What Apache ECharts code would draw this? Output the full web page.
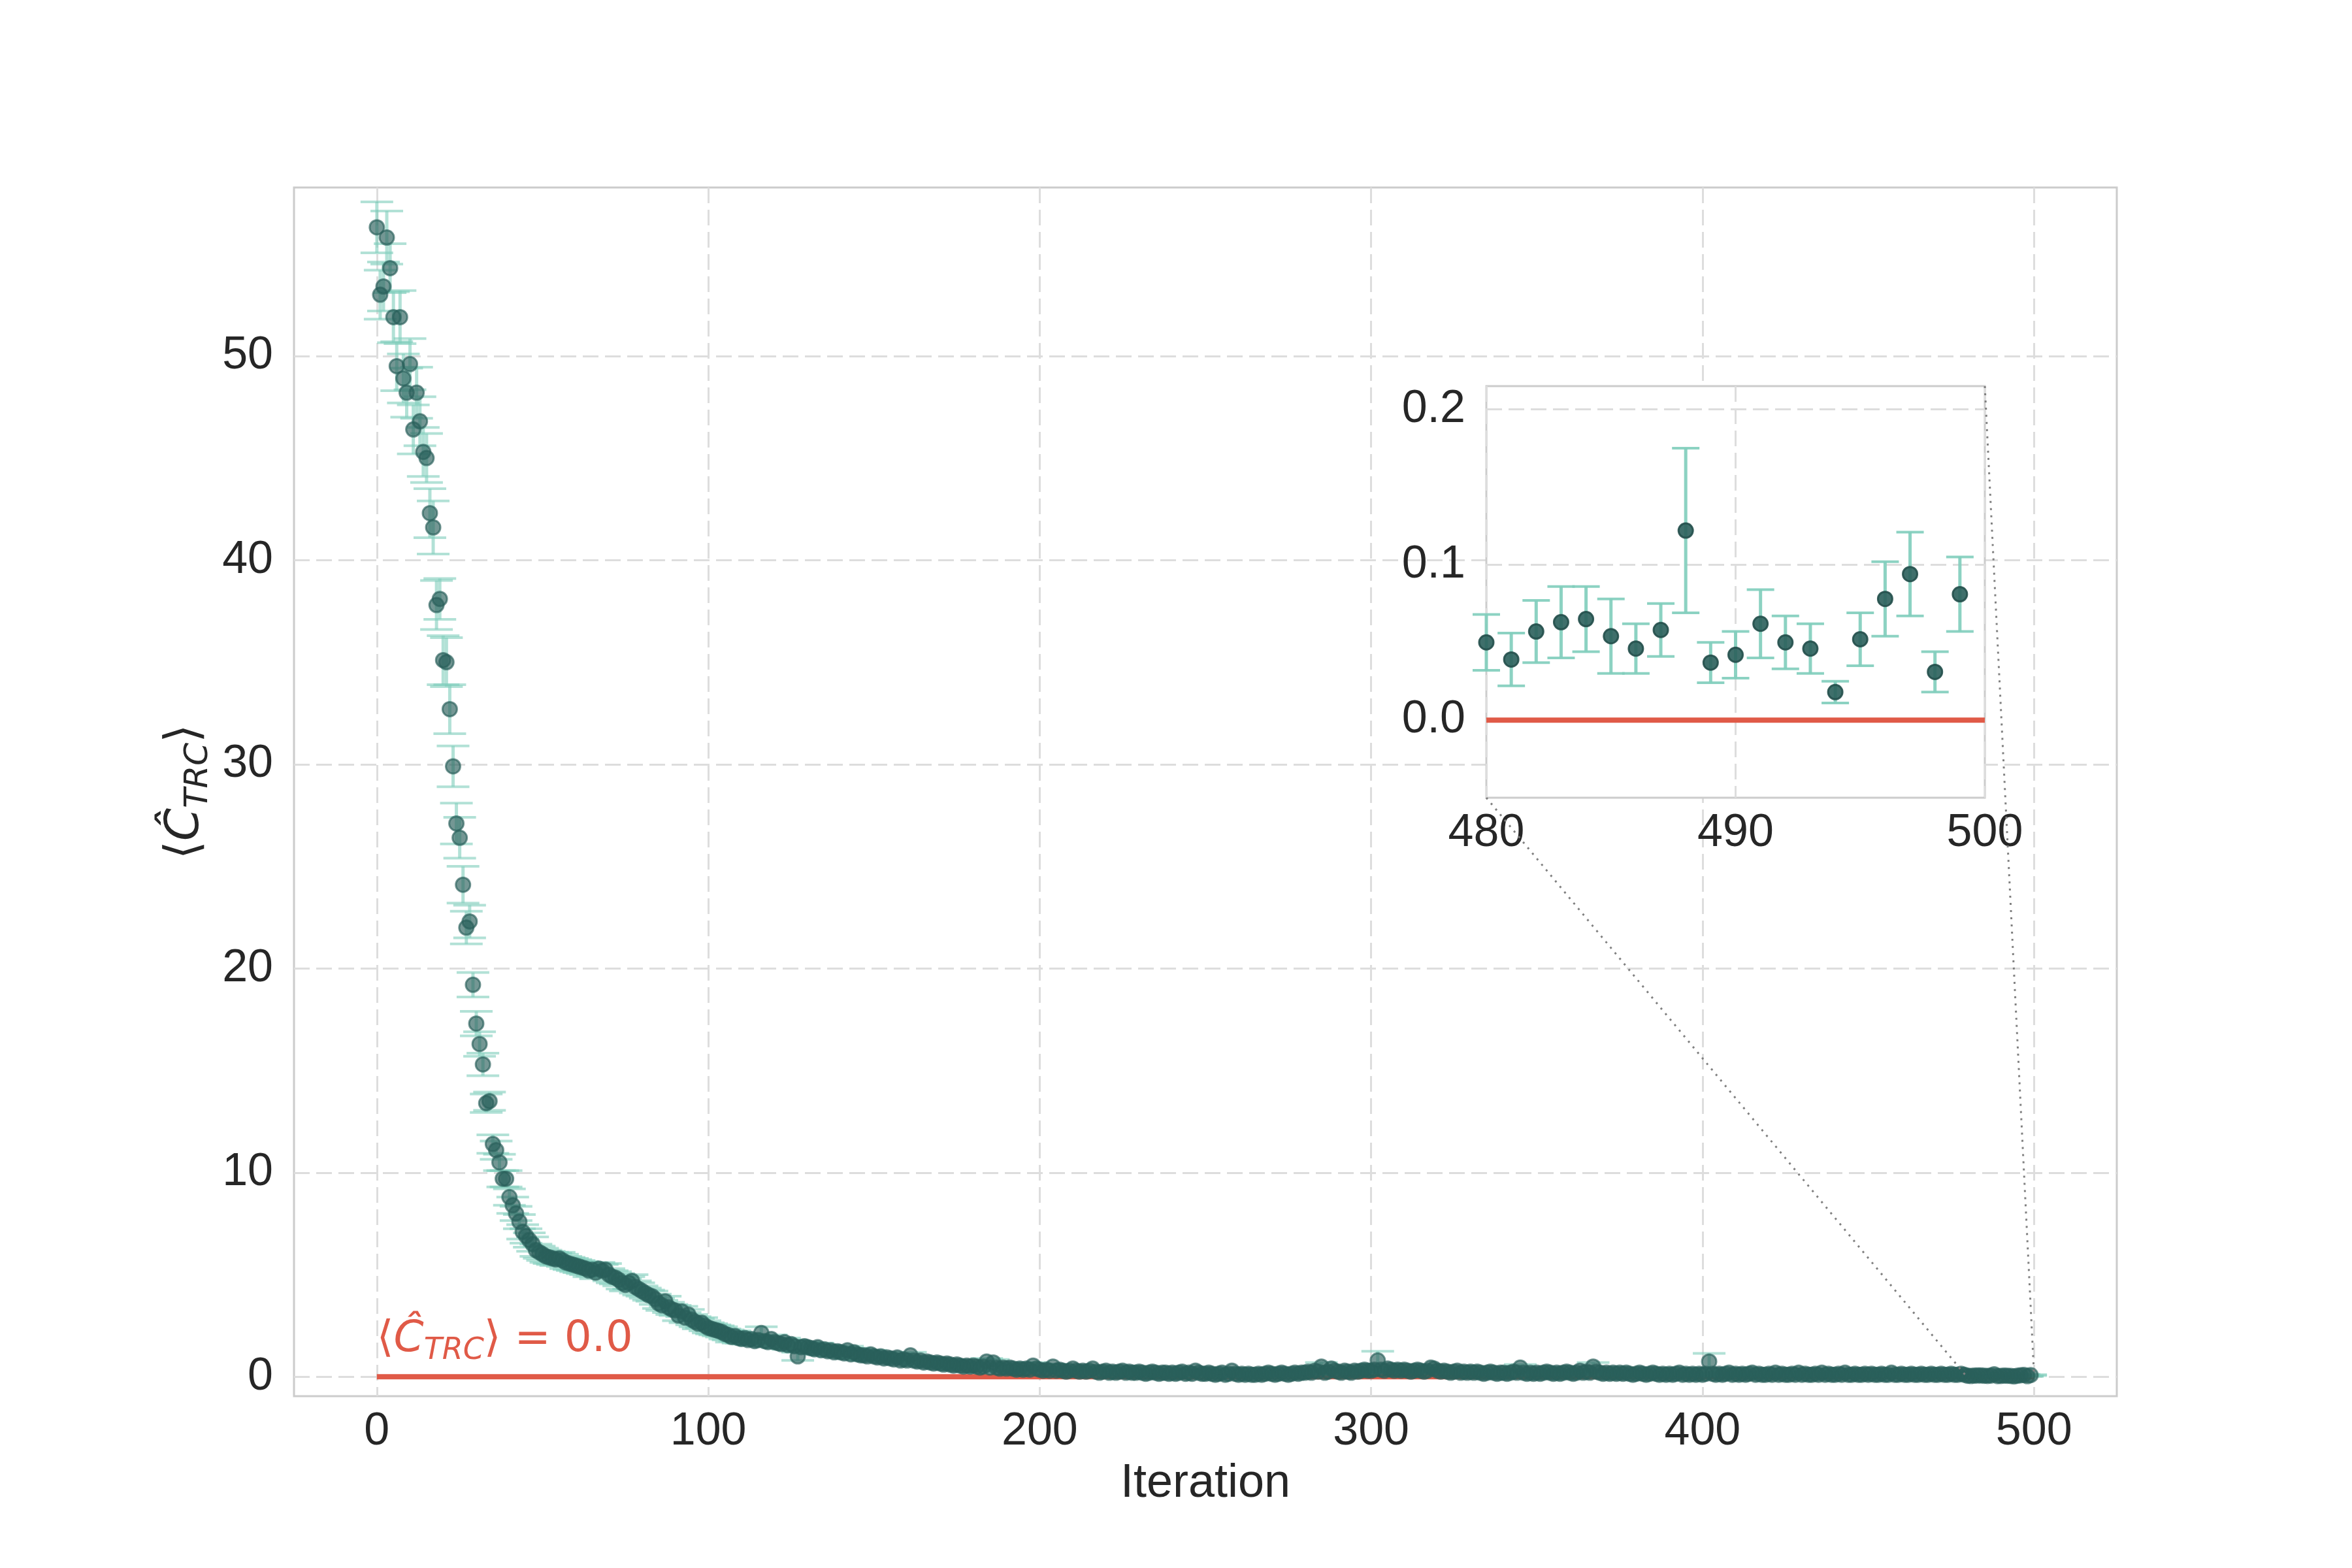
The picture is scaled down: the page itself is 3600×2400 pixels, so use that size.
<!DOCTYPE html>
<html>
<head>
<meta charset="utf-8">
<script src="https://cdn.jsdelivr.net/npm/echarts@6/dist/echarts.min.js"></script>
<style>
  html, body { margin: 0; background: #fff; }
  #chart { width: 3600px; height: 2400px; }
</style>
</head>
<body>
<div id="chart"></div>
<script>
// iterations 0..49, read one by one
const earlyValues = [
  56.3, 53.0, 53.4, 55.8, 54.3, 51.9, 49.5, 51.9, 48.9, 48.2,
  49.6, 46.4, 48.2, 46.8, 45.3, 45.0, 42.3, 41.6, 37.8, 38.1,
  35.1, 35.0, 32.7, 29.9, 27.1, 26.4, 24.1, 22.0, 22.3, 19.2,
  17.3, 16.3, 15.3, 13.4, 13.5, 11.4, 11.1, 10.5, 9.7, 9.7,
  8.8, 8.4, 8.0, 7.6, 7.1, 6.9, 6.7, 6.5, 6.2, 6.1
]
const earlyErrors = [
  1.25, 1.2, 1.2, 1.3, 1.2, 1.25, 1.2, 1.3, 1.2, 1.2,
  1.25, 1.2, 1.25, 1.2, 1.2, 1.2, 1.2, 1.3, 1.2, 1.0,
  1.2, 1.2, 1.2, 1.0, 1.0, 1.0, 0.9, 0.8, 0.8, 0.6,
  0.6, 0.6, 0.55, 0.45, 0.45, 0.45, 0.45, 0.4, 0.4, 0.4,
  0.4, 0.4, 0.35, 0.35, 0.35, 0.35, 0.35, 0.35, 0.3, 0.3
]

// iterations 50..479 (dense band)
const laterValues = [
  6.0, 5.9, 5.85, 5.8, 5.75, 5.8, 5.7, 5.6, 5.55, 5.5,
  5.45, 5.4, 5.35, 5.3, 5.2, 5.25, 5.1, 5.3, 5.2, 5.25,
  5.0, 4.9, 4.85, 4.75, 4.6, 4.5, 4.6, 4.7, 4.4, 4.3,
  4.2, 4.1, 4.0, 3.95, 3.8, 3.6, 3.5, 3.7, 3.4, 3.3,
  3.25, 3.0, 3.2, 2.9, 3.05, 2.8, 2.7, 2.6, 2.65, 2.5,
  2.4, 2.35, 2.3, 2.25, 2.2, 2.1, 2.05, 1.95, 2.0, 1.9,
  1.85, 1.9, 1.8, 1.85, 1.75, 1.8, 2.15, 1.75, 1.7, 1.85,
  1.7, 1.65, 1.6, 1.7, 1.55, 1.6, 1.5, 1.0, 1.45, 1.5,
  1.45, 1.4, 1.35, 1.45, 1.3, 1.35, 1.25, 1.3, 1.2, 1.25,
  1.2, 1.15, 1.3, 1.1, 1.2, 1.1, 1.05, 1.05, 1.0, 1.1,
  1.0, 0.95, 1.0, 0.9, 0.95, 0.9, 0.85, 0.95, 0.8, 0.85,
  0.8, 1.05, 0.8, 0.75, 0.8, 0.7, 0.75, 0.7, 0.65, 0.7,
  0.65, 0.6, 0.65, 0.6, 0.55, 0.6, 0.55, 0.5, 0.55, 0.5,
  0.55, 0.5, 0.45, 0.5, 0.75, 0.45, 0.7, 0.45, 0.4, 0.45,
  0.4, 0.45, 0.4, 0.35, 0.4, 0.35, 0.4, 0.35, 0.55, 0.4,
  0.35, 0.3, 0.35, 0.3, 0.5, 0.3, 0.35, 0.3, 0.25, 0.3,
  0.4, 0.3, 0.25, 0.3, 0.25, 0.3, 0.4, 0.25, 0.2, 0.25,
  0.3, 0.2, 0.25, 0.2, 0.25, 0.3, 0.2, 0.25, 0.2, 0.2,
  0.25, 0.2, 0.15, 0.2, 0.25, 0.2, 0.15, 0.2, 0.2, 0.15,
  0.2, 0.15, 0.2, 0.25, 0.15, 0.2, 0.15, 0.3, 0.2, 0.15,
  0.15, 0.2, 0.15, 0.1, 0.15, 0.2, 0.1, 0.15, 0.3, 0.15,
  0.1, 0.15, 0.1, 0.15, 0.1, 0.1, 0.15, 0.1, 0.15, 0.2,
  0.15, 0.1, 0.15, 0.2, 0.15, 0.1, 0.15, 0.2, 0.15, 0.2,
  0.2, 0.25, 0.2, 0.3, 0.25, 0.5, 0.2, 0.25, 0.4, 0.3,
  0.25, 0.2, 0.3, 0.25, 0.2, 0.3, 0.25, 0.3, 0.35, 0.3,
  0.3, 0.35, 0.8, 0.35, 0.3, 0.4, 0.35, 0.3, 0.35, 0.3,
  0.35, 0.3, 0.25, 0.3, 0.35, 0.3, 0.25, 0.3, 0.45, 0.4,
  0.3, 0.25, 0.3, 0.25, 0.2, 0.25, 0.3, 0.2, 0.25, 0.2,
  0.25, 0.2, 0.25, 0.2, 0.15, 0.2, 0.25, 0.2, 0.15, 0.2,
  0.2, 0.15, 0.2, 0.25, 0.2, 0.45, 0.2, 0.15, 0.2, 0.15,
  0.2, 0.15, 0.2, 0.25, 0.2, 0.15, 0.2, 0.15, 0.2, 0.25,
  0.2, 0.15, 0.2, 0.3, 0.2, 0.25, 0.2, 0.5, 0.25, 0.2,
  0.15, 0.2, 0.15, 0.2, 0.15, 0.2, 0.15, 0.2, 0.15, 0.1,
  0.15, 0.2, 0.15, 0.1, 0.15, 0.2, 0.15, 0.1, 0.15, 0.1,
  0.15, 0.1, 0.15, 0.2, 0.1, 0.15, 0.1, 0.15, 0.1, 0.15,
  0.1, 0.15, 0.75, 0.15, 0.1, 0.15, 0.1, 0.15, 0.2, 0.1,
  0.15, 0.1, 0.15, 0.1, 0.15, 0.2, 0.1, 0.15, 0.1, 0.1,
  0.15, 0.1, 0.2, 0.1, 0.15, 0.1, 0.1, 0.15, 0.1, 0.2,
  0.1, 0.15, 0.1, 0.1, 0.15, 0.1, 0.2, 0.1, 0.15, 0.1,
  0.1, 0.15, 0.1, 0.2, 0.1, 0.1, 0.15, 0.1, 0.1, 0.15,
  0.1, 0.15, 0.1, 0.1, 0.15, 0.1, 0.1, 0.2, 0.1, 0.1,
  0.15, 0.1, 0.1, 0.15, 0.1, 0.1, 0.15, 0.1, 0.1, 0.15,
  0.1, 0.1, 0.15, 0.1, 0.1, 0.15, 0.1, 0.1, 0.15, 0.1
]
// error half-width read per stretch of the band: [first iteration, error]
const laterErrorSteps = [[50, 0.3], [80, 0.25], [110, 0.2], [150, 0.15], [200, 0.1], [260, 0.07], [330, 0.05]]
const laterErrorPeaks = { 116: 0.3, 127: 0.2, 285: 0.2, 302: 0.45, 345: 0.15, 367: 0.2, 402: 0.4 }

// iterations 480..499
const tailValues = [
  0.050, 0.039, 0.057, 0.063, 0.065, 0.054, 0.046, 0.058, 0.122, 0.037,
  0.042, 0.062, 0.050, 0.046, 0.018, 0.052, 0.078, 0.094, 0.031, 0.081
]
const tailErrors = [
  0.018, 0.017, 0.020, 0.023, 0.021, 0.024, 0.016, 0.017, 0.053, 0.013,
  0.015, 0.022, 0.017, 0.016, 0.007, 0.017, 0.024, 0.027, 0.013, 0.024
]

const mainXTicks = [0, 100, 200, 300, 400, 500]
const mainYTicks = [0, 10, 20, 30, 40, 50]
const mainXRange = [-25, 525]
const mainYRange = [-0.95, 58.25]
const insetXRange = [480, 500]
const insetYRange = [-0.05, 0.215]
const insetYTicks = [0, 0.1, 0.2]
const targetLine = [[0, 0], [500, 0]]
const insetTargetLine = [[480, 0], [500, 0]]

const values = earlyValues.concat(laterValues, tailValues)

const errorAt = (i) => {
	if (i < earlyErrors.length) return earlyErrors[i]
	if (i >= 480) return tailErrors[i - 480]
	if (laterErrorPeaks[i] !== undefined) return laterErrorPeaks[i]
	let e = laterErrorSteps[0][1]
	laterErrorSteps.forEach(([start, err]) => { if (i >= start) e = err })
	return e
}

const points = values.map((v, i) => [i, v, errorAt(i)])
const insetPoints = points.filter(p => p[0] >= insetXRange[0] && p[0] < insetXRange[1])

const TEAL_DARK = '#2a5f5b'
const TEAL_LIGHT = '#7fcdbb'
const RED = '#e05a47'
const TEXT = '#262626'

const tickLabel = { fontFamily: 'Liberation Sans', fontSize: 70, color: TEXT }
const gridLine = { show: true, lineStyle: { color: '#dddddd', width: 3, type: [24, 10] } }

const errorBars = (xi, yi, data, capHalf, opacity, z) => ({
	type: 'custom',
	xAxisIndex: xi,
	yAxisIndex: yi,
	z: z,
	silent: true,
	data: data,
	encode: { x: 0, y: 1 },
	renderItem: function (params, api) {
		const x = api.value(0)
		const y = api.value(1)
		const e = api.value(2)
		const top = api.coord([x, y + e])
		const bot = api.coord([x, y - e])
		const bar = { stroke: TEAL_LIGHT, lineWidth: 5, opacity: opacity }
		const cap = { stroke: TEAL_LIGHT, lineWidth: 4, opacity: opacity }
		return {
			type: 'group',
			children: [
				{ type: 'line', shape: { x1: top[0], y1: top[1], x2: bot[0], y2: bot[1] }, style: bar },
				{ type: 'line', shape: { x1: top[0] - capHalf, y1: top[1], x2: top[0] + capHalf, y2: top[1] }, style: cap },
				{ type: 'line', shape: { x1: bot[0] - capHalf, y1: bot[1], x2: bot[0] + capHalf, y2: bot[1] }, style: cap }
			]
		}
	}
})

const chart = echarts.init(document.getElementById('chart'))

const option = {
	backgroundColor: '#ffffff',
	animation: false,
	grid: [
		{ left: 450, top: 287, width: 2790, height: 1850, show: true, borderColor: '#cccccc', borderWidth: 3, backgroundColor: 'transparent' },
		{ left: 2275, top: 591, width: 763, height: 630, show: true, borderColor: '#cccccc', borderWidth: 3, backgroundColor: '#ffffff', z: 10 }
	],
	xAxis: [
		{
			type: 'value', gridIndex: 0, min: mainXRange[0], max: mainXRange[1],
			name: 'Iteration', nameLocation: 'middle', nameGap: 98,
			nameTextStyle: { fontFamily: 'Liberation Sans', fontSize: 72, color: TEXT },
			axisLine: { show: false },
			axisTick: { show: false, customValues: mainXTicks },
			axisLabel: { ...tickLabel, margin: 20, customValues: mainXTicks },
			splitLine: gridLine
		},
		{
			type: 'value', gridIndex: 1, min: insetXRange[0], max: insetXRange[1], interval: 10, z: 11,
			axisLine: { show: false },
			axisTick: { show: false },
			axisLabel: { ...tickLabel, margin: 20 },
			splitLine: gridLine
		}
	],
	yAxis: [
		{
			type: 'value', gridIndex: 0, min: mainYRange[0], max: mainYRange[1],
			name: '{a|\u27E8}{c|\u0108}{s|TRC}{a|\u27E9}',
			nameLocation: 'middle', nameRotate: 90, nameGap: 120,
			nameTextStyle: {
				fontFamily: 'DejaVu Sans', fontSize: 72, color: TEXT,
				rich: {
					a: { fontFamily: 'DejaVu Sans', fontSize: 72, lineHeight: 90, color: TEXT },
					c: { fontFamily: 'DejaVu Sans', fontStyle: 'italic', fontSize: 72, lineHeight: 90, color: TEXT },
					s: { fontFamily: 'DejaVu Sans', fontStyle: 'italic', fontSize: 50, lineHeight: 60, verticalAlign: 'bottom', color: TEXT }
				}
			},
			axisLine: { show: false },
			axisTick: { show: false, customValues: mainYTicks },
			axisLabel: { ...tickLabel, margin: 32, customValues: mainYTicks },
			splitLine: gridLine
		},
		{
			type: 'value', gridIndex: 1, min: insetYRange[0], max: insetYRange[1], z: 11,
			axisLine: { show: false },
			axisTick: { show: false, customValues: insetYTicks },
			axisLabel: { ...tickLabel, margin: 32, customValues: insetYTicks, formatter: v => Number(v).toFixed(1) },
			splitLine: gridLine
		}
	],
	series: [
		{
			type: 'line', xAxisIndex: 0, yAxisIndex: 0, z: 2, data: targetLine,
			symbol: 'none', silent: true, lineStyle: { color: RED, width: 8 }
		},
		errorBars(0, 0, points, 25, 0.6, 3),
		{
			type: 'scatter', xAxisIndex: 0, yAxisIndex: 0, z: 4, silent: true,
			data: points.map(p => [p[0], p[1]]), symbolSize: 22,
			itemStyle: { color: TEAL_DARK, opacity: 0.65, borderColor: TEAL_DARK, borderWidth: 3 }
		},
		{
			type: 'line', xAxisIndex: 1, yAxisIndex: 1, z: 12, data: insetTargetLine,
			symbol: 'none', silent: true, lineStyle: { color: RED, width: 8 }
		},
		errorBars(1, 1, insetPoints, 21, 0.9, 13),
		{
			type: 'scatter', xAxisIndex: 1, yAxisIndex: 1, z: 14, silent: true,
			data: insetPoints.map(p => [p[0], p[1]]), symbolSize: 22,
			itemStyle: { color: TEAL_DARK, opacity: 0.9, borderColor: '#234f4b', borderWidth: 3 }
		}
	]
}

chart.setOption(option)

// connectors from the inset to the zoomed region, and the target label
const main = { xAxisIndex: 0, yAxisIndex: 0 }
const inset = { xAxisIndex: 1, yAxisIndex: 1 }
const a0 = chart.convertToPixel(inset, [insetXRange[0], insetYRange[0]])
const a1 = chart.convertToPixel(main, [insetXRange[0], insetYRange[0]])
const b0 = chart.convertToPixel(inset, [insetXRange[1], insetYRange[1]])
const b1 = chart.convertToPixel(main, [insetXRange[1], insetYRange[1]])
const t0 = chart.convertToPixel(main, targetLine[0])

const connector = { stroke: '#808080', lineWidth: 3, lineDash: [3, 8] }

chart.setOption({
	graphic: [
		{ type: 'line', z: 20, silent: true, shape: { x1: a0[0], y1: a0[1], x2: a1[0], y2: a1[1] }, style: connector },
		{ type: 'line', z: 20, silent: true, shape: { x1: b0[0], y1: b0[1], x2: b1[0], y2: b1[1] }, style: connector },
		{
			type: 'text', z: 6, silent: true, x: t0[0], y: t0[1] - 16,
			style: {
				text: '{a|\u27E8}{c|\u0108}{s|TRC}{a|\u27E9 = 0.0}',
				align: 'left', verticalAlign: 'bottom',
				rich: {
					a: { fontFamily: 'DejaVu Sans', fontSize: 66, lineHeight: 80, fill: RED },
					c: { fontFamily: 'DejaVu Sans', fontStyle: 'italic', fontSize: 66, lineHeight: 80, fill: RED },
					s: { fontFamily: 'DejaVu Sans', fontStyle: 'italic', fontSize: 46, lineHeight: 54, verticalAlign: 'bottom', fill: RED }
				}
			}
		}
	]
})
</script>
</body>
</html>
